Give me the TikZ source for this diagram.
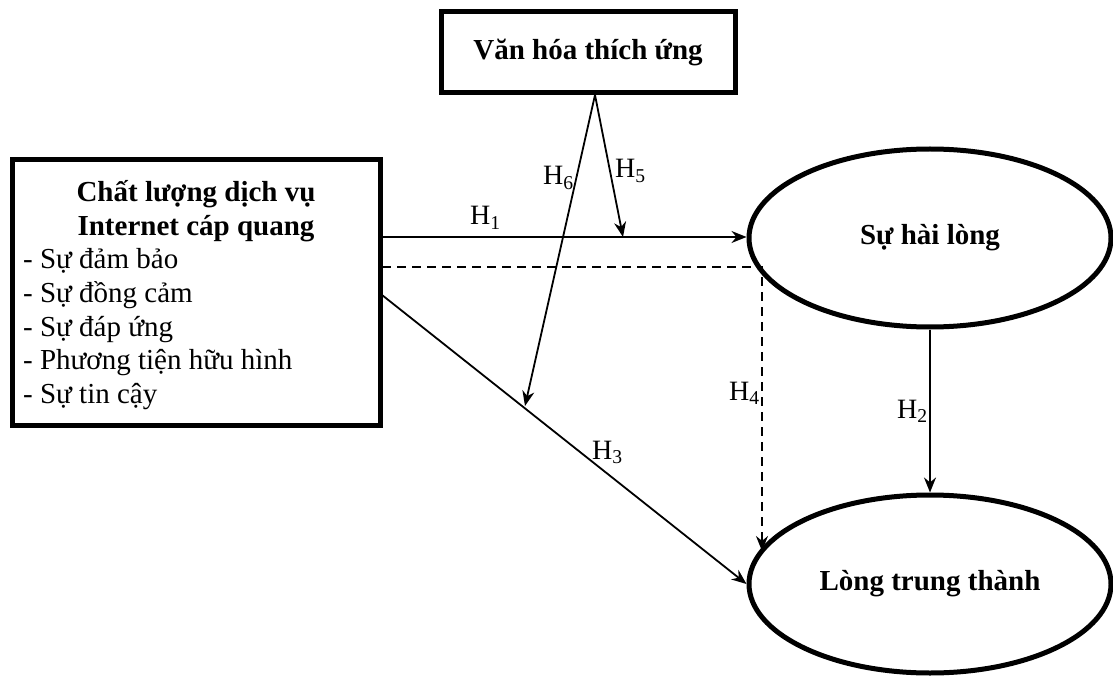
\documentclass[tikz,border=0pt]{standalone}
\usepackage{fontspec}
\setmainfont{Liberation Serif}
\usetikzlibrary{shapes.geometric,arrows.meta,calc}
\begin{document}
\begin{tikzpicture}[x=1pt,y=-1pt,
  box/.style={draw, line width=5pt, rectangle, inner sep=0pt},
  ell/.style={draw, ellipse, line width=5pt, minimum width=362pt, minimum height=178pt, inner sep=0pt, font=\fontsize{29}{34}\selectfont\bfseries},
  conn/.style={line width=1.8pt, -{Stealth[length=15pt,width=12pt]}},
  dconn/.style={conn, dash pattern=on 9pt off 6pt},
  lab/.style={anchor=base west, inner sep=0pt, font=\fontsize{28}{32}\selectfont},
  txt/.style={inner sep=0pt, font=\fontsize{29}{34}\selectfont},
  btxt/.style={inner sep=0pt, font=\fontsize{29}{34}\selectfont\bfseries},
]
\useasboundingbox (0,0) rectangle (1113,676);
% boxes
\node[box, minimum width=294pt, minimum height=81pt, font=\fontsize{29}{34}\selectfont\bfseries] (V) at (588,52.5) {Văn hóa thích ứng};
\node[box, minimum width=368pt, minimum height=265pt] (L) at (196,292.5) {};
\node[btxt, anchor=base] (l1) at (196,202) {Chất lượng dịch vụ};
\node[btxt, anchor=base] (l2) at (196,235.5) {Internet cáp quang};
\node[txt, anchor=base west] (i1) at (23,269) {- Sự đảm bảo};
\node[txt, anchor=base west] (i2) at (23,302.5) {- Sự đồng cảm};
\node[txt, anchor=base west] (i3) at (23,336) {- Sự đáp ứng};
\node[txt, anchor=base west] (i4) at (23,369.5) {- Phương tiện hữu hình};
\node[txt, anchor=base west] (i5) at (23,403) {- Sự tin cậy};
% ellipses
\node[ell] (S) at (930,238) {Sự hài lòng};
\node[ell] (T) at (930,584) {Lòng trung thành};
% coordinates
\coordinate (h1s) at (382,237);
\coordinate (h4s) at (382,267);
\coordinate (h3s) at (382,295);
\coordinate (apex) at (595,95);
\coordinate (h5e) at (623,237);
\coordinate (h6e) at (525,406);
\coordinate (h4c) at (762,267);
\coordinate (h4e) at (762,551);
% connectors
\draw[conn] (h1s) -- (h1s -| S.west);
\draw[conn] (apex) -- (h5e);
\draw[conn] (apex) -- (h6e);
\draw[conn] (h3s) -- (T.west);
\draw[conn] (S.south) -- (T.north);
\draw[dconn] (h4s) -- (h4c) -- (h4e);
% labels
\node[lab] (H1) at (470,225) {H\textsubscript{1}};
\node[lab] (H5) at (615,178) {H\textsubscript{5}};
\node[lab] (H6) at (543,185) {H\textsubscript{6}};
\node[lab] (H4) at (729,400) {H\textsubscript{4}};
\node[lab] (H2) at (897,418) {H\textsubscript{2}};
\node[lab] (H3) at (592,459) {H\textsubscript{3}};
\end{tikzpicture}
\end{document}
